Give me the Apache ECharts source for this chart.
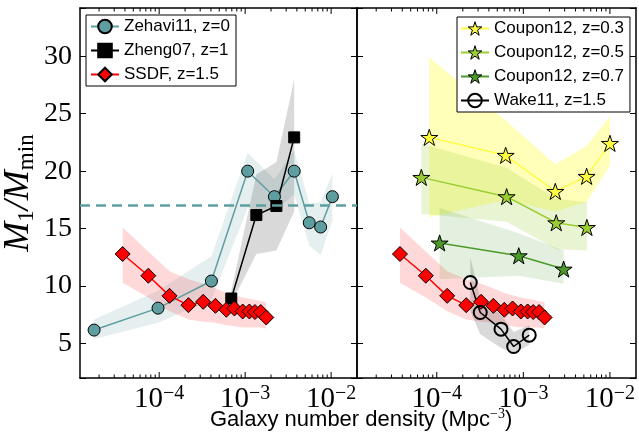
<!DOCTYPE html>
<html><head><meta charset="utf-8">
<script src="https://cdn.jsdelivr.net/npm/echarts@6/dist/echarts.min.js"></script>
<style>html,body{margin:0;padding:0;background:#fff}#c{width:639px;height:436px}</style>
</head><body><div id="c"></div>
<script>
// ---------------- data ----------------
const zehaviX  = [1.75e-5, 9.7e-5, 4.05e-4, 1.07e-3, 2.19e-3, 3.72e-3, 5.57e-3, 7.55e-3, 1.035e-2];
const zehaviY  = [6.17, 8.08, 10.44, 20.0, 17.78, 20.0, 15.51, 15.14, 17.78];
const zehaviLo = [5.4, 6.8, 8.8, 16.8, 16.5, 18.0, 13.5, 12.7, 15.7];
const zehaviHi = [7.1, 9.6, 12.6, 21.6, 19.3, 21.8, 17.2, 17.3, 19.8];

const zhengX  = [6.9e-4, 1.35e-3, 2.31e-3, 3.72e-3];
const zhengY  = [8.92, 16.18, 16.97, 22.94];
const zhengLo = [8.5, 12.8, 13.1, 16.5];
const zhengHi = [9.6, 19.7, 20.8, 28.0];

const ssdfX  = [3.76e-5, 7.48e-5, 1.32e-4, 2.19e-4, 3.25e-4, 4.51e-4, 6.03e-4, 7.51e-4, 9.36e-4, 1.12e-3, 1.30e-3, 1.52e-3, 1.76e-3];
const ssdfY  = [12.79, 10.9, 9.15, 8.34, 8.63, 8.28, 7.94, 8.05, 7.79, 7.79, 7.74, 7.74, 7.27];
const ssdfLo = [10.3, 9.0, 7.8, 7.1, 6.9, 6.8, 6.6, 6.5, 6.4, 6.4, 6.4, 6.4, 6.3];
const ssdfHi = [15.1, 13.0, 11.3, 10.6, 10.2, 9.8, 9.4, 9.2, 9.0, 8.9, 8.8, 8.7, 8.6];

const c03X  = [8.2e-5, 6.25e-4, 2.34e-3, 5.38e-3, 1.0e-2];
const c03Y  = [22.94, 21.38, 18.24, 19.55, 22.42];
const c03Lo = [16.0, 17.5, 16.5, 17.3, 20.5];
const c03Hi = [29.9, 24.4, 20.6, 22.2, 24.8];

const c05X  = [6.64e-5, 6.41e-4, 2.40e-3, 5.42e-3];
const c05Y  = [19.46, 17.78, 15.51, 15.1];
const c05Lo = [16.3, 15.6, 13.2, 13.1];
const c05Hi = [22.4, 20.3, 17.6, 17.3];

const c07X  = [1.08e-4, 8.85e-4, 2.92e-3];
const c07Y  = [13.75, 12.64, 11.48];
const c07Lo = [10.6, 10.9, 10.2];
const c07Hi = [16.8, 14.6, 13.1];

const wakeX  = [2.44e-4, 3.18e-4, 5.52e-4, 7.73e-4, 1.17e-3];
const wakeY  = [10.31, 7.7, 6.25, 4.74, 5.73];
const wakeLo = [7.8, 5.8, 4.6, 4.1, 4.9];
const wakeHi = [12.5, 9.0, 7.5, 6.0, 6.6];

const meanLevel = 17;

const xMajorTicks = [1e-4, 1e-3, 1e-2];
const xMinorTicks = [2e-5,3e-5,4e-5,5e-5,6e-5,7e-5,8e-5,9e-5,
                     2e-4,3e-4,4e-4,5e-4,6e-4,7e-4,8e-4,9e-4,
                     2e-3,3e-3,4e-3,5e-3,6e-3,7e-3,8e-3,9e-3];
const yTicks = [5, 10, 15, 20, 25, 30];

const leftLegend  = ['Zehavi11, z=0', 'Zheng07, z=1', 'SSDF, z=1.5'];
const rightLegend = ['Coupon12, z=0.3', 'Coupon12, z=0.5', 'Coupon12, z=0.7', 'Wake11, z=1.5'];

const X_MIN = 1.2e-5, X_MAX = 2e-2, Y_MIN = 2, Y_MAX = 34.2;

// ---------------- helpers ----------------
const SERIF = 'Liberation Serif';
const SANS = 'Liberation Sans';

function zip(xs, ys) { return xs.map((x, i) => [x, ys[i]]); }

function starPath() {
  let d = '';
  for (let i = 0; i < 10; i++) {
    const r = i % 2 === 0 ? 1 : 0.381966;
    const a = -Math.PI / 2 + i * Math.PI / 5;
    d += (i === 0 ? 'M' : 'L') + (r * Math.cos(a)).toFixed(4) + ',' + (r * Math.sin(a)).toFixed(4) + ' ';
  }
  return 'path://' + d + 'Z';
}
const STAR = starPath();

function band(grid, xs, lo, hi, fill) {
  return {
    type: 'custom', xAxisIndex: grid * 2, yAxisIndex: grid * 2, silent: true, z: 1,
    data: xs.map((x, i) => [x, lo[i], hi[i]]),
    encode: { x: 0, y: [1, 2] },
    renderItem: function (params, api) {
      if (params.dataIndex !== 0) return null;
      const pts = [];
      for (let i = 0; i < xs.length; i++) pts.push(api.coord([xs[i], hi[i]]));
      for (let i = xs.length - 1; i >= 0; i--) pts.push(api.coord([xs[i], lo[i]]));
      return { type: 'polygon', shape: { points: pts }, style: { fill: fill, stroke: null } };
    }
  };
}

function ticks(grid) {
  const items = xMajorTicks.map(v => [v, 10, 1]).concat(xMinorTicks.map(v => [v, 10, 0]));
  return {
    type: 'custom', xAxisIndex: grid * 2, yAxisIndex: grid * 2, silent: true, z: 6, clip: false,
    data: items, encode: { x: 0, y: 1 },
    renderItem: function (params, api) {
      const p = api.coord([api.value(0), api.value(1)]);
      const cs = params.coordSys;
      const len = api.value(2) ? 6 : 3.5;
      const st = { stroke: '#000', lineWidth: 1 };
      const b = cs.y + cs.height, t = cs.y;
      return { type: 'group', children: [
        { type: 'line', shape: { x1: p[0], y1: b, x2: p[0], y2: b - len }, style: st },
        { type: 'line', shape: { x1: p[0], y1: t, x2: p[0], y2: t + len }, style: st }
      ]};
    }
  };
}

function lineSeries(grid, name, xs, ys, color, symbol, size, extra) {
  const s = {
    type: 'line', name: name, xAxisIndex: grid * 2, yAxisIndex: grid * 2, z: 3,
    data: zip(xs, ys), symbol: symbol, symbolSize: size, symbolKeepAspect: true,
    showAllSymbol: true, clip: false,
    lineStyle: { color: color, width: 1.5 },
    itemStyle: { color: color, borderColor: '#000', borderWidth: 1 },
    emphasis: { disabled: true }, silent: true
  };
  return Object.assign(s, extra || {});
}

function xLabel(v) {
  const e = Math.round(Math.log10(v));
  if (Math.abs(Math.log10(v) - e) > 1e-6) return '';
  return '{b|10}{s|\u2212' + Math.abs(e) + '}';
}

const frame = { show: true, onZero: false, lineStyle: { color: '#000', width: 1.5 } };

function xAxes(grid, showLabels) {
  return [
    { type: 'log', logBase: 10, gridIndex: grid, position: 'bottom', min: X_MIN, max: X_MAX,
      axisLine: frame, axisTick: { show: false }, splitLine: { show: false }, minorTick: { show: false },
      axisLabel: { show: showLabels, formatter: xLabel, margin: 6,
        rich: { b: { fontFamily: SERIF, fontSize: 29, color: '#000', lineHeight: 30 },
                s: { fontFamily: SERIF, fontSize: 20, color: '#000', verticalAlign: 'top', lineHeight: 20 } } } },
    { type: 'log', logBase: 10, gridIndex: grid, position: 'top', min: X_MIN, max: X_MAX,
      axisLine: frame, axisTick: { show: false }, splitLine: { show: false }, axisLabel: { show: false } }
  ];
}
function yAxes(grid, showLabels) {
  const tick = { show: true, inside: true, length: 6, lineStyle: { color: '#000', width: 1 } };
  const lab = { show: showLabels, margin: 8, fontFamily: SERIF, fontSize: 28, color: '#000',
                formatter: v => (yTicks.indexOf(v) >= 0 ? String(v) : '') };
  const a = { type: 'value', gridIndex: grid, position: 'left', min: Y_MIN, max: Y_MAX,
      axisLine: frame, axisTick: tick, splitLine: { show: false }, axisLabel: lab };
  if (grid === 0 && showLabels) {
    a.name = '{i|M}{s|1}{i|/M}{s|min}';
    a.nameLocation = 'middle';
    a.nameRotate = 90;
    a.nameGap = 42;
    a.nameTextStyle = { rich: {
      i: { fontFamily: SERIF, fontStyle: 'italic', fontSize: 36, color: '#000', lineHeight: 38 },
      s: { fontFamily: SERIF, fontSize: 23, color: '#000', verticalAlign: 'bottom', lineHeight: 23 } } };
  }
  const b = { type: 'value', gridIndex: grid, position: 'right', min: Y_MIN, max: Y_MAX,
      axisLine: frame, axisTick: tick, splitLine: { show: false }, axisLabel: { show: false } };
  return [a, b];
}

const TEAL = '#5F9EA0', RED = '#FF0000', YEL = '#FFFF40', OLIVE = '#9ACD32', GREEN = '#4C9A2A';

const series = [
  band(0, zehaviX, zehaviLo, zehaviHi, 'rgba(95,158,160,0.16)'),
  band(0, zhengX, zhengLo, zhengHi, 'rgba(0,0,0,0.15)'),
  band(0, ssdfX, ssdfLo, ssdfHi, 'rgba(255,0,0,0.15)'),
  band(1, c03X, c03Lo, c03Hi, 'rgba(255,255,0,0.27)'),
  band(1, c05X, c05Lo, c05Hi, 'rgba(154,205,50,0.22)'),
  band(1, c07X, c07Lo, c07Hi, 'rgba(76,154,42,0.15)'),
  band(1, ssdfX, ssdfLo, ssdfHi, 'rgba(255,0,0,0.15)'),
  band(1, wakeX, wakeLo, wakeHi, 'rgba(0,0,0,0.15)'),
  lineSeries(0, leftLegend[0], zehaviX, zehaviY, TEAL, 'circle', 12, {
    markLine: { silent: true, symbol: 'none', label: { show: false },
      lineStyle: { color: TEAL, width: 2.5, type: [10, 6] }, data: [{ yAxis: meanLevel }] } }),
  lineSeries(0, leftLegend[1], zhengX, zhengY, '#000', 'rect', 11),
  lineSeries(0, leftLegend[2], ssdfX, ssdfY, RED, 'diamond', 15),
  lineSeries(1, leftLegend[2], ssdfX, ssdfY, RED, 'diamond', 15),
  lineSeries(1, rightLegend[0], c03X, c03Y, YEL, STAR, 17),
  lineSeries(1, rightLegend[1], c05X, c05Y, OLIVE, STAR, 17),
  lineSeries(1, rightLegend[2], c07X, c07Y, GREEN, STAR, 17),
  lineSeries(1, rightLegend[3], wakeX, wakeY, '#000', 'circle', 13, {
    itemStyle: { color: 'rgba(0,0,0,0)', borderColor: '#000', borderWidth: 2 } }),
  ticks(0), ticks(1)
];

const legendCommon = {
  orient: 'vertical', backgroundColor: '#fff', borderColor: '#000', borderWidth: 1, borderRadius: 0,
  itemWidth: 28, itemHeight: 17, itemGap: 7, selectedMode: false,
  textStyle: { fontFamily: SANS, fontSize: 17, color: '#000' }
};
const starColors = [YEL, OLIVE, GREEN];
const rightLegendData = rightLegend.map((n, i) => i < 3
  ? { name: n, itemStyle: { color: starColors[i], borderColor: '#000', borderWidth: 1 } }
  : { name: n });

const option = {
  animation: false,
  grid: [
    { left: 78, top: 8, width: 279, height: 370 },
    { left: 357, top: 8, width: 279, height: 370 }
  ],
  xAxis: xAxes(0, true).concat(xAxes(1, true)),
  yAxis: yAxes(0, true).concat(yAxes(1, false)),
  legend: [
    Object.assign({}, legendCommon, { data: leftLegend, left: 86, top: 15, padding: [3, 6, 3, 4] }),
    Object.assign({}, legendCommon, { data: rightLegendData, left: 457, top: 17, padding: [3, 6, 3, 3] })
  ],
  title: {
    text: '{a|Galaxy number density (Mpc}{s|\u22123}{a|)}', left: 205, top: 402,
    textStyle: { fontWeight: 'normal', rich: {
      a: { fontFamily: SANS, fontSize: 22, fontWeight: 'normal', color: '#000', lineHeight: 25 },
      s: { fontFamily: SERIF, fontSize: 14, fontWeight: 'normal', color: '#000', verticalAlign: 'top', lineHeight: 14 } } }
  },
  series: series
};

const chart = echarts.init(document.getElementById('c'), null, { renderer: 'canvas' });
chart.setOption(option);
</script></body></html>
